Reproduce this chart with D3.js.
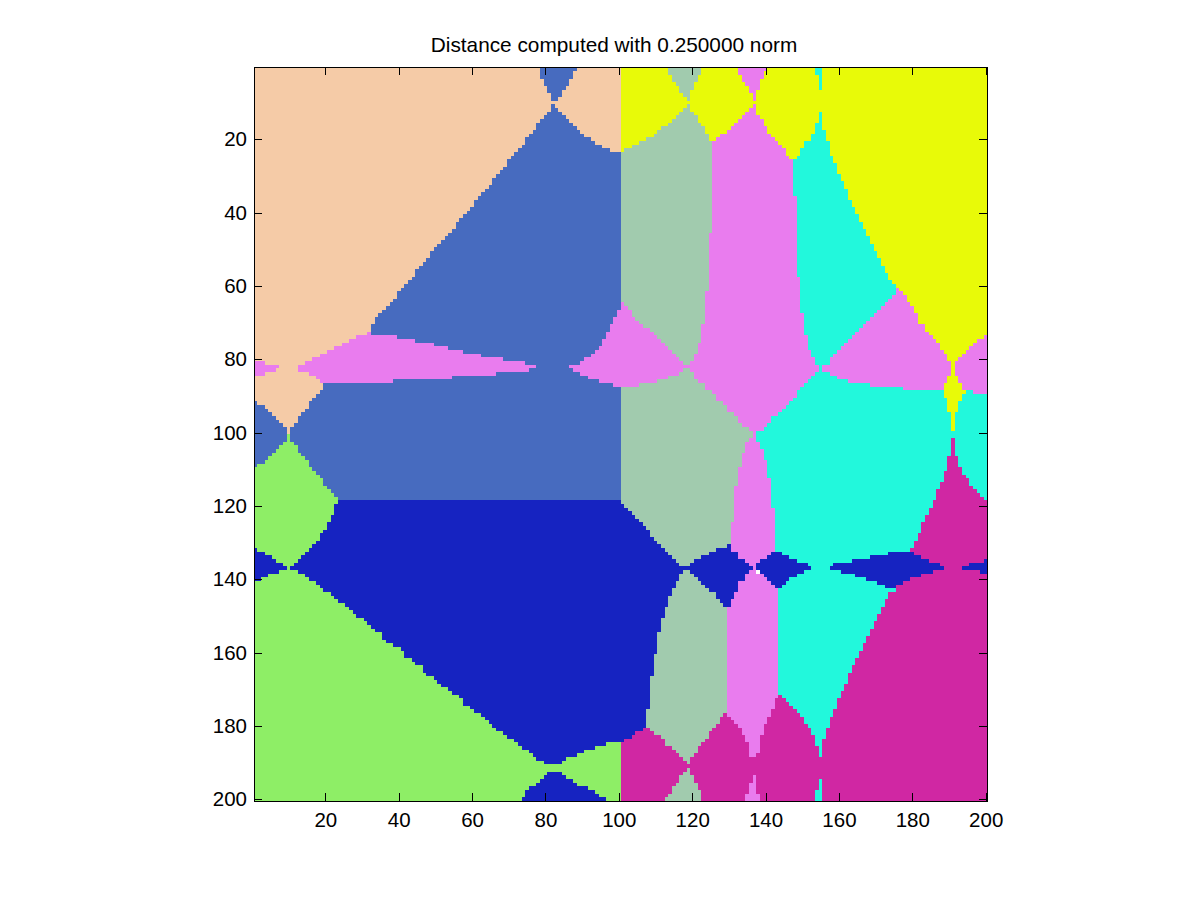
<!DOCTYPE html>
<html><head><meta charset="utf-8">
<script src="https://cdn.jsdelivr.net/npm/d3@7"></script>
<style>html,body{margin:0;padding:0;background:#fff}svg{display:block}text{font-family:"Liberation Sans",Arial,sans-serif;fill:#000}</style>
</head><body><div id="chart"></div>
<script>
const titleText = "Distance computed with 0.250000 norm";
const tickValues = [20,40,60,80,100,120,140,160,180,200];
const gridSize = 201;
const colorNames = ["peach","blue","green","navy","yellow","sage","pink","cyan","magenta"];
const colorValues = ["#f5cba7","#476bbf","#8eee66","#1623c1","#e8fa08","#a1cbae","#e97cee","#22f8dc","#d027a3"];

// Region outlines, in image row/column units [col,row]
const blueBase = [[0,0],[100.5,0],[100.5,118.5],[0,118.5]];
const peachTop = [[0,0],[78.5,0],[78.5,3],[79.6,5],[80.7,7],[81.5,9.5],[82.6,9.5],[84.5,7.5],[86.7,4.7],[87.6,2],[88.5,0],[100.5,0],[100.5,23.4],[98.5,23.4],[96.5,22.6],[94.7,21.5],[91.7,19.7],[89.5,18.5],[87.2,15.6],[84.5,13.4],[82.6,11.5],[82.6,10.6],[81.5,10.6],[81.5,12.5],[79.6,13.8],[76.7,17.5],[73.5,21.8],[69.5,26.5],[64.6,32.5],[59.7,38.4],[54.5,44.7],[48.5,51.5],[43.7,57.5],[38.5,63.8],[32.5,70.6],[32.5,74],[20,80],[0,80.5]];
const peachLobe = [[0,79.9],[19.6,79.9],[19.6,88.5],[18.5,88.5],[18.5,89.5],[17.5,89.5],[17.5,90.6],[16.7,90.6],[15.5,91.5],[15.5,93.5],[14.5,94.5],[12.6,95.5],[12.6,96.5],[11.5,97.6],[10.6,98.5],[10.6,100.3],[9.6,100.3],[9.6,98.5],[8.5,98.4],[7.6,97.6],[6.5,95.8],[5.6,94.9],[4.6,93.8],[3.5,92.5],[1.7,92.5],[0.8,91.5],[0,91.5]];
const greenUpper = [[9.6,100.3],[10.6,100.3],[10.6,102.5],[11.5,102.5],[11.5,103.4],[12.5,103.4],[12.5,105.5],[13.6,105.5],[13.6,106.4],[14.5,106.4],[14.5,107.5],[15.5,107.5],[15.5,109.4],[16.7,109.4],[16.7,110.5],[17.5,110.5],[17.5,111.5],[18.5,111.5],[18.5,112.4],[19.6,112.4],[19.6,114.5],[20.5,114.5],[20.5,115.4],[21.5,115.4],[21.5,116.4],[22.6,116.4],[22.6,117.5],[23.5,117.5],[23.5,119.6],[22.6,119.6],[22.6,122.6],[21.5,122.6],[21.5,124.5],[20.5,124.5],[20.5,126.7],[19.6,126.7],[19.6,127.5],[18.5,127.5],[18.5,129.7],[17.5,129.7],[17.5,130.5],[16.6,130.5],[16.6,131.6],[15.5,131.6],[15.5,132.7],[14.5,132.7],[14.5,133.5],[13.6,133.5],[13.6,134.6],[12.5,134.6],[12.5,135.7],[11.5,135.7],[11.5,136.5],[10.6,136.5],[10.6,137.6],[9.5,137.6],[9.5,136.5],[8.4,136.5],[8.4,135.7],[6.5,135.7],[6.5,134.6],[5.5,134.6],[5.5,133.5],[3.5,133.5],[3.5,132.7],[1.7,132.7],[1.7,131.6],[0,131.6],[0,109.4],[1.7,109.4],[1.7,108.5],[3.5,108.5],[3.5,107.5],[4.6,107.5],[4.6,106.4],[5.5,106.4],[5.5,105.5],[6.5,105.5],[6.5,104.5],[7.6,104.5],[7.6,103.4],[8.5,103.4],[8.5,102.5],[9.6,102.5]];
const navyBase = [[0,118.5],[100.5,118.5],[120.5,137.8],[108,190],[100.5,190],[100.5,201],[73,201.5],[0,201.5],[0,131]];
const greenLower = [[0,140.5],[2.4,140.5],[2.4,139.6],[4.5,139.6],[4.5,138.7],[7.6,138.7],[7.6,137.6],[12.5,137.6],[12.5,138.7],[14.5,138.7],[14.5,139.6],[15.5,139.6],[15.5,140.5],[17.5,140.5],[17.5,141.7],[18.5,141.7],[18.5,142.6],[19.6,142.6],[19.6,143.6],[21.5,143.6],[21.5,144.7],[22.6,144.7],[22.6,145.5],[23.5,145.5],[23.5,146.6],[25.6,146.6],[25.6,147.7],[26.5,147.7],[26.5,148.5],[27.5,148.5],[27.5,149.6],[28.6,149.6],[28.6,150.7],[30.5,150.7],[30.5,151.5],[31.6,151.5],[32.5,153.7],[33.5,153.7],[33.5,154.5],[35.5,154.5],[35.5,155.6],[36.6,156.7],[37.6,157.5],[38.5,158.6],[40.7,158.6],[40.7,159.7],[41.5,160.5],[42.6,161.6],[43.7,162.7],[45.6,163.5],[46.6,164.6],[47.5,165.7],[48.5,166.5],[50.5,167.6],[51.5,168.7],[52.6,169.5],[53.7,170.6],[55.6,171.7],[56.7,172.5],[57.5,173.6],[58.6,174.7],[60.5,175.5],[61.6,176.6],[62.7,177.7],[63.5,178.5],[65.7,179.6],[66.5,180.7],[67.6,181.5],[69.5,182.6],[70.6,183.7],[71.7,184.5],[73.6,185.6],[74.7,186.7],[75.5,187.5],[77.7,188.6],[78.5,189.7],[80.7,190.5],[84.5,190.5],[84.5,189.7],[86.7,188.6],[89.7,187.5],[91.6,186.7],[94.6,185.6],[98.7,184.5],[100.5,184.5],[100.5,201.5],[97.6,201.5],[95.7,199.7],[94.6,198.9],[92.7,197.8],[91.6,196.7],[89.7,196.7],[88.6,195.6],[86.7,194.5],[84.5,193.7],[84.5,192.6],[80.7,192.6],[79.6,193.7],[78.5,194.5],[77.7,195.6],[76.6,196.7],[75.5,196.7],[74.7,197.8],[74.7,199.7],[73.6,199.7],[73.6,201.5],[0,201.5]];
const pinkWedge = [[77.6,81.5],[71.7,80.5],[65.6,79.6],[60.5,78.5],[55.5,77.5],[51.5,76.5],[46.7,75.5],[41.5,74.5],[37.6,73.6],[32.5,73.6],[32.5,72.5],[31.5,72.5],[31.5,73.6],[29.5,73.6],[27.6,74.5],[25.6,75.5],[23.5,76.5],[21.5,77.5],[19.6,78.5],[17.5,79.6],[15.5,80.5],[12.6,81.5],[12.6,83.4],[15.5,83.4],[15.5,84.5],[17.5,84.5],[17.5,85.6],[18.5,85.6],[18.5,86.4],[38.5,86.4],[38.5,85.6],[54.5,85.6],[54.5,84.5],[66.5,84.5],[66.5,83.5],[75.5,83.5],[75.5,82.6],[77.6,82.6]];
const pinkEdge = [[0,80.5],[3.5,80.5],[3.5,81.5],[7.5,81.5],[7.5,82.6],[6.5,82.6],[6.5,83.3],[3.5,83.3],[3.5,84.4],[0,84.4]];
const pinkBlob = [[86.7,81.5],[89.7,81.5],[89.7,80.5],[91.7,79.6],[92.6,78.5],[93.5,77.5],[94.7,76.5],[95.8,75.5],[96.5,73.6],[97.6,71.5],[98.7,69.7],[99.5,66.5],[100.5,66.5],[100.5,64.7],[100.5,87.5],[99.5,87.5],[96.5,86.4],[93.5,85.6],[90.5,84.5],[87.4,83.4],[86.7,82.6]];
const pinkBand = [[100.5,60],[201.5,60],[201.5,90],[155,90],[150,100],[143,138],[130,138],[130,110],[100.5,100]];
const cyanMiddle = [[154.5,81.5],[155.6,81.5],[155.6,83.4],[157.5,83.5],[157.5,84.5],[159.7,84.5],[159.7,85.6],[162.7,85.6],[162.7,86.4],[168.7,86.4],[168.7,87.5],[177.7,87.5],[177.7,88.6],[194.4,88.6],[196.6,88.6],[196.6,89.4],[201.5,89.4],[201.5,137],[142.5,137],[142.5,120.4],[141.5,120.4],[141.5,112.3],[140.5,112.3],[140.5,107.5],[139.6,107.5],[139.6,104.5],[138.5,104.5],[138.5,102.5],[137.6,102.5],[137.6,99.5],[138.5,99.5],[139.6,98.5],[140.5,97.6],[141.5,96.5],[142.5,95.5],[143.6,94.5],[144.5,93.6],[145.5,92.6],[146.6,91.5],[147.5,90.6],[148.6,89.5],[149.6,87.6],[150.5,86.5],[151.5,85.6],[152.5,84.5],[153.6,83.5],[154.5,83.4]];
const yellowMain = [[100.5,0],[201.5,0],[201.5,73.6],[199.5,73.6],[199.5,74.5],[197.7,74.5],[196.6,75.6],[195.7,76.5],[194.6,77.5],[193.6,78.5],[192.6,79.5],[192.6,80.5],[191.6,80.5],[191.6,84.5],[192.6,84.5],[192.6,86.4],[193.5,86.4],[193.5,88.6],[194.4,88.6],[194.4,89.5],[193.5,89.5],[193.5,91.5],[192.6,91.5],[192.6,94.5],[191.6,94.5],[191.6,99.5],[190.5,99.5],[190.5,94.5],[189.8,94.5],[189.8,90.6],[188.6,90.6],[188.6,86.4],[189.8,86.4],[189.8,84.5],[190.5,84.5],[190.5,80.5],[189.8,80.5],[189.8,78.5],[188.7,78.5],[187.5,77.5],[187.5,75.5],[186.6,75.5],[186.6,74.5],[185.7,74.5],[185.7,73.4],[184.5,73.4],[183.7,71.5],[182.6,70.6],[181.5,69.5],[180.7,66.5],[179.6,65.5],[178.6,63.8],[177.7,62.5],[176.6,61.7],[175.5,59.5],[100.5,59.5]];
const pinkUpper = [[125.6,20.5],[126.6,19.7],[127.5,18.5],[129.5,18.5],[130.5,16.5],[131.6,15.6],[132.5,14.5],[133.5,13.6],[134.6,12.5],[135.5,11.5],[136.6,10.6],[137.6,10.6],[137.6,12.5],[138.5,14.5],[139.6,15.5],[140.5,18],[141.6,18.5],[142.5,19.7],[143.6,21.5],[144.5,22.5],[145.7,23.5],[146.6,25.6],[149,26],[152,60.5],[122,60.5],[122,25]];
const cyanUpper = [[154.6,12.5],[155.6,12.5],[155.6,17.5],[156.6,17.5],[156.6,20.5],[157.5,20.5],[157.5,23.4],[158.6,25.6],[159.7,28.6],[160.5,30.4],[161.6,32.5],[162.7,35.4],[163.6,37.5],[164.6,39.5],[165.7,41.5],[166.6,43.5],[167.7,45.5],[168.7,47.5],[169.5,49.5],[170.6,51.5],[171.5,53.4],[172.5,55.6],[173.7,57.5],[174.8,59.5],[175.5,59.5],[175.5,62.2],[174.8,62.7],[173.7,63.8],[171.5,65.5],[169.5,67.6],[167.7,69.7],[165.7,71.8],[163.6,73.5],[161.6,75.6],[159.8,77.5],[158.6,78.5],[157.5,80.5],[156.6,81.5],[155.6,81.5],[155.6,83.4],[154.5,83.4],[154.5,81.5],[153.6,81.5],[153.6,79.5],[152.5,79.5],[152.5,77.4],[151.5,77.4],[151.5,73.5],[150.5,73.5],[150.5,67.5],[149.6,67.5],[149.6,57.5],[148.6,57.5],[148.6,35.4],[147.5,35.4],[147.5,25.6],[148.6,24.5],[149.6,23.5],[150.5,21.5],[151.5,20.5],[152.5,20.5],[152.5,18.2],[153.7,18.2],[153.7,15.6],[154.6,15.6]];
const sageUpper = [[100.5,23.4],[102.5,22.6],[104.5,21.5],[106.6,20.5],[108.5,19.7],[109.5,18.5],[111.5,17.5],[112.5,16.5],[113.7,15.6],[114.5,14.5],[115.5,13.6],[116.6,12.5],[117.5,11.5],[118.5,10.6],[119.5,10.6],[119.5,11.5],[120.5,12.5],[121.5,13.6],[121.6,15.5],[122.7,15.6],[123.5,17.3],[124.5,19.7],[125.6,20.5],[125.6,45.5],[124.5,45.5],[124.5,61.5],[123.5,61.5],[123.5,70.6],[122.6,70.6],[122.6,75.5],[121.5,75.5],[121.5,78.5],[120.5,78.5],[120.5,80.5],[119.5,80.5],[119.5,81.5],[117.5,81.5],[117.5,80.5],[115.5,79.5],[113.7,77.5],[111.5,75.2],[108.5,72],[107.5,71.5],[105.5,69.5],[103.6,67.6],[102.5,65.6],[101.6,64.7],[100.5,64.7]];
const sageTop = [[112.5,0],[113.6,1.5],[114.5,4.5],[116.6,5.5],[116.6,7.5],[118.5,8.4],[118.5,9.5],[119.5,9.5],[119.5,8.4],[120.5,5.5],[121.6,3.5],[122.6,0]];
const pinkTop = [[131.6,0],[132.5,1.5],[133.5,3.5],[134.8,5.5],[135.5,6.6],[136.6,8.4],[136.6,9.5],[137.6,9.5],[137.6,8.4],[138.5,4.8],[139.6,2.5],[140.5,0]];
const cyanTop = [[153.7,0],[153.7,3],[154.6,3],[154.6,6.5],[155.6,6.5],[155.6,0]];
const sageMiddle = [[100.5,87.5],[105.5,87.5],[105.5,86.4],[110.7,86.4],[110.7,85.6],[113.7,85.6],[113.7,84.5],[116.6,84.5],[116.6,83.5],[117.5,82.6],[119.5,82.6],[119.5,83.5],[120.5,83.5],[120.5,84.5],[121.5,85.6],[122.5,86.4],[123.5,87.5],[124.5,88.5],[125.6,89.5],[126.5,90.6],[127.5,91.5],[128.6,92.5],[129.5,93.5],[130.5,94.5],[131.6,95.5],[132.5,96.5],[133.5,97.6],[134.6,98.5],[135.5,99.5],[136.5,99.5],[136.5,101.4],[135.5,101.4],[135.5,102.5],[134.6,102.5],[134.6,105.5],[133.5,105.5],[133.5,109.3],[132.5,109.3],[132.5,114.5],[131.6,114.5],[131.6,124.5],[130.5,124.5],[130.5,130.5],[129.5,130.5],[129.5,131.6],[126.5,131.6],[126.5,132.7],[124.5,132.7],[124.5,133.5],[122.6,133.5],[122.6,134.6],[120.5,134.6],[119.5,135.6],[119.5,136.5],[117.5,136.5],[116.6,135.6],[115.5,134.6],[114.5,133.7],[113.6,132.7],[112.5,131.7],[111.5,130.6],[110.5,129.7],[109.5,128.6],[108.5,127.5],[107.5,125.5],[105.5,124.5],[103.6,121.9],[102.5,120.8],[101.6,119.6],[100.5,118.5]];
const magentaBase = [[100.5,184.5],[101.6,183.7],[103.5,183.7],[103.5,182.6],[104.6,182.6],[104.6,181.6],[106.6,181.6],[106.6,180.8],[107.5,180.8],[120,170],[145,170],[145,136.8],[179.6,136.8],[179.6,132.7],[179.6,131.7],[180.7,131.7],[180.7,129.7],[181.5,129.7],[181.5,127.5],[182.6,127.5],[182.6,124.5],[183.6,124.5],[183.6,122.6],[184.5,122.6],[184.5,120.5],[185.7,120.5],[185.7,118.4],[186.6,118.4],[186.6,115.4],[187.5,115.4],[187.5,113.5],[188.6,113.5],[188.6,110.4],[189.8,110.4],[189.8,106.4],[190.5,106.4],[190.5,101.4],[191.6,101.4],[191.6,106.4],[192.6,106.4],[192.6,109.3],[193.5,109.3],[193.5,111.4],[194.4,111.4],[194.4,112.3],[195.5,112.3],[195.5,114.5],[196.4,114.5],[196.4,115.4],[197.5,115.4],[197.5,116.4],[198.5,116.4],[198.5,117.3],[199.3,117.3],[199.3,118.4],[201.5,118.4],[201.5,201.5],[100.5,201.5]];
const cyanLower = [[143.6,136.7],[176,136.7],[175.5,142.5],[174.6,143.5],[173.7,143.5],[173.7,145.5],[172.5,145.5],[172.5,147.6],[171.5,147.6],[171.5,149.6],[170.6,149.6],[170.6,151.5],[169.5,151.5],[169.5,153.7],[168.7,153.7],[168.7,155.6],[167.6,155.6],[167.6,157.6],[166.6,157.6],[166.6,159.7],[165.7,159.7],[165.7,161.5],[164.6,161.5],[164.6,163.5],[163.6,163.5],[163.6,165.8],[162.7,165.8],[162.7,168.7],[161.6,168.7],[161.6,170.6],[160.5,170.6],[160.5,172.6],[159.7,172.6],[159.7,175.5],[158.6,175.5],[158.6,177.8],[157.5,177.8],[157.5,180.7],[156.7,180.7],[156.7,183.7],[155.6,183.7],[155.6,188.5],[154.6,188.5],[154.6,185.6],[153.6,185.6],[153.6,182.6],[152.6,182.6],[152.6,180.7],[151.5,180.7],[151.5,179.7],[150.5,179.7],[150.5,177.8],[149.6,177.8],[149.6,176.7],[148.6,176.7],[148.6,175.5],[147.5,175.5],[147.5,174.6],[146.6,174.6],[146.6,173.5],[145.5,173.5],[145.5,172.6],[144.5,172.6],[144.5,171.7],[143.6,171.7]];
const pinkLower = [[129.5,147.6],[130.5,147.6],[130.5,145.5],[131.6,145.5],[131.6,143.5],[132.5,143.5],[132.5,141.5],[133.5,140.5],[134.6,140.5],[134.6,138.7],[135.5,137.6],[137.6,137.6],[138.5,138.7],[139.6,138.7],[139.6,139.6],[140.5,139.6],[140.5,140.5],[141.5,140.5],[141.5,141.5],[142.5,141.5],[142.5,142.5],[143.6,142.5],[143.6,173],[142.5,173],[142.5,175.5],[141.5,175.5],[141.5,177.8],[140.5,177.8],[140.5,179.7],[139.6,179.7],[139.6,182.6],[138.5,182.6],[138.5,187.6],[137.6,187.6],[137.6,188.5],[135.5,188.5],[135.5,184.7],[134.6,184.7],[134.6,182.6],[133.5,182.6],[133.5,180.7],[132.5,180.7],[132.5,179.7],[131.6,179.7],[131.6,178.6],[130.5,178.6],[130.5,177.8],[129.5,177.8]];
const sageLower = [[117.5,137.6],[119.5,137.6],[120.5,138.5],[121.5,139.6],[122.5,140.5],[123.5,141.7],[124.5,142.6],[125.6,143.5],[126.5,144.5],[126.5,145.5],[127.5,145.5],[127.5,146.5],[128.6,146.5],[128.6,147.6],[129.5,147.6],[129.5,176.7],[128.6,176.7],[128.6,177.8],[127.5,177.8],[127.5,179.7],[126.5,179.7],[125.6,180.6],[124.5,181.5],[124.5,182.6],[123.5,183.7],[122.6,184.7],[121.5,185.6],[121.5,187.6],[120.5,187.6],[119.5,188.5],[119.5,190.5],[118.5,190.5],[118.5,189.6],[117.5,189.6],[117.5,188.5],[116.6,188.5],[116.6,187.6],[115.5,187.6],[115.5,186.7],[114.5,186.7],[114.5,185.6],[113.6,185.6],[112.5,184.7],[112.5,183.7],[111.5,183.7],[111.5,182.6],[109.5,182.6],[109.5,181.5],[108.5,181.5],[108.5,180.8],[107.5,180.8],[107.5,175.5],[108.5,175.5],[108.5,166.5],[109.5,166.5],[109.5,160.5],[110.5,160.5],[110.5,154.6],[111.5,154.6],[111.5,150.8],[112.5,150.8],[112.5,147.6],[113.6,147.6],[113.6,144.7],[114.5,144.7],[114.5,142.5],[115.5,142.5],[115.5,140.5],[116.6,140.5],[116.6,138.7]];
const navyDiamondA = [[119.5,137.6],[119.5,135.6],[120.5,134.6],[122.6,134.6],[122.6,133.5],[124.5,133.5],[124.5,132.7],[126.5,132.7],[126.5,131.6],[129.5,131.6],[129.5,130.5],[130.5,130.5],[130.5,131.6],[131.6,132.7],[132.5,132.7],[132.5,133.7],[133.5,134.6],[134.6,134.6],[134.6,135.6],[135.5,135.6],[135.5,136.5],[136.5,136.5],[136.5,137.6],[135.5,137.6],[134.6,138.7],[134.6,140.5],[133.5,140.5],[132.5,141.5],[132.5,143.5],[131.6,143.5],[131.6,145.5],[130.5,145.5],[130.5,147.6],[128.6,147.6],[128.6,146.5],[127.5,146.5],[127.5,145.5],[126.5,145.5],[126.5,144.5],[125.6,143.5],[124.5,142.6],[123.5,141.7],[122.5,140.5],[121.5,139.6],[120.5,138.5]];
const navyDiamondB = [[137.6,135.6],[138.5,134.6],[140.5,134.6],[140.5,133.7],[141.5,133.7],[141.5,132.7],[144.5,132.7],[144.5,133.5],[146.6,133.5],[146.6,134.6],[148.6,134.6],[148.6,135.6],[151.5,135.6],[151.5,136.5],[152.6,136.5],[152.6,137.6],[150.5,137.6],[150.5,138.7],[148.6,138.7],[148.6,139.6],[146.6,139.6],[146.6,140.5],[145.5,140.5],[145.5,141.5],[144.5,141.5],[144.5,142.5],[142.5,142.5],[142.5,141.5],[141.5,141.5],[141.5,140.5],[140.5,140.5],[140.5,139.6],[139.6,139.6],[139.6,138.7],[138.5,138.7],[138.5,137.6],[137.6,137.6]];
const navyDiamondC = [[157.5,136.5],[158.6,136.5],[158.6,135.6],[163.6,135.6],[163.6,134.6],[168.7,134.6],[168.7,133.5],[173.7,133.5],[173.7,132.7],[180.7,132.7],[180.7,133.5],[182.6,133.5],[182.6,134.6],[184.5,134.6],[184.5,135.6],[187.5,135.6],[187.5,136.5],[188.6,136.5],[188.6,137.6],[185.7,137.6],[185.7,138.7],[182.6,138.7],[182.6,139.6],[179.6,139.6],[179.6,140.5],[177.7,140.5],[177.7,141.6],[175.5,141.6],[175.5,142.5],[172.5,142.5],[172.5,141.6],[170.6,141.6],[170.6,140.5],[167.6,140.5],[167.6,139.6],[164.6,139.6],[164.6,138.7],[160.5,138.7],[160.5,137.6],[157.5,137.6]];
const navyDiamondD = [[193.5,136.5],[195.5,136.5],[195.5,135.6],[199.3,135.6],[199.3,134.6],[201.5,134.6],[201.5,138.7],[198.5,138.7],[198.5,137.6],[193.5,137.6]];
const pinkBottom = [[136.5,193.5],[137.6,193.5],[137.6,198.2],[138.5,198.2],[138.5,201.5],[134.6,201.5],[134.6,198.2],[135.5,198.2],[135.5,195.7],[136.5,195.7]];
const sageBottom = [[119.5,191.5],[118.5,191.5],[118.5,192.7],[117.5,192.7],[117.5,193.5],[116.6,193.5],[116.6,195.6],[115.5,195.6],[114.5,196.5],[114.5,198.5],[113.6,198.5],[113.6,199.5],[112.5,199.5],[112.5,201.5],[122.6,201.5],[122.6,197.8],[121.5,197.8],[121.5,196],[120.5,196],[120.5,193.5],[119.5,192.7]];
const cyanBottom = [[153.7,201.5],[153.7,197.8],[154.6,197.8],[154.6,194.8],[155.6,194.8],[155.6,201.5]];

const layers = [
 ["blue",blueBase],["peach",peachTop],["peach",peachLobe],["navy",navyBase],["green",greenUpper],["green",greenLower],
 ["pink",pinkWedge],["pink",pinkEdge],["pink",pinkBlob],["pink",pinkBand],["cyan",cyanMiddle],["yellow",yellowMain],
 ["pink",pinkUpper],["cyan",cyanUpper],["sage",sageUpper],["sage",sageTop],["pink",pinkTop],["cyan",cyanTop],
 ["sage",sageMiddle],["magenta",magentaBase],["cyan",cyanLower],["pink",pinkLower],["sage",sageLower],
 ["navy",navyDiamondA],["navy",navyDiamondB],["navy",navyDiamondC],["navy",navyDiamondD],
 ["pink",pinkBottom],["sage",sageBottom],["cyan",cyanBottom]
];

const width = 1200, height = 900;
const frame = {left:254, right:987, top:67, bottom:801};
const x = d3.scaleLinear().domain([20,200]).range([325.3,985.7]);
const y = d3.scaleLinear().domain([20,200]).range([139.3,799.3]);
const color = d3.scaleOrdinal().domain(colorNames).range(colorValues);

const svg = d3.select("#chart").append("svg").attr("width",width).attr("height",height);
svg.append("defs").append("clipPath").attr("id","plot").append("rect")
  .attr("x",frame.left).attr("y",frame.top).attr("width",frame.right-frame.left).attr("height",frame.bottom-frame.top);

// Classify each image cell by the topmost outline that contains it, then merge runs along rows.
const runs = [];
for (let row = 1; row <= gridSize; row++) {
  let current = null;
  for (let col = 1; col <= gridSize; col++) {
    let name = null;
    for (let i = layers.length-1; i >= 0; i--) {
      if (d3.polygonContains(layers[i][1],[col,row])) { name = layers[i][0]; break; }
    }
    if (current && current.name === name) current.end = col;
    else { current = {row, start:col, end:col, name}; runs.push(current); }
  }
}
svg.append("g").attr("clip-path","url(#plot)").attr("shape-rendering","crispEdges")
  .selectAll("rect").data(runs.filter(d=>d.name)).join("rect")
  .attr("x",d=>Math.round(x(d.start-.5)))
  .attr("y",d=>Math.round(y(d.row-.5)))
  .attr("width",d=>Math.round(x(d.end+.5))-Math.round(x(d.start-.5)))
  .attr("height",d=>Math.round(y(d.row+.5))-Math.round(y(d.row-.5)))
  .attr("fill",d=>color(d.name));

function styleAxis(g, showText){
  g.select(".domain").remove();
  g.selectAll(".tick line").attr("stroke","#000").attr("shape-rendering","crispEdges");
  g.selectAll(".tick text").attr("font-size",20.5).attr("fill","#000").style("display",showText?null:"none");
}
const tick = 8;
svg.append("g").attr("transform",`translate(0,${frame.bottom})`)
  .call(d3.axisBottom(x).tickValues(tickValues).tickSizeInner(-tick).tickPadding(11)).call(g=>styleAxis(g,true));
svg.append("g").attr("transform",`translate(0,${frame.top})`)
  .call(d3.axisTop(x).tickValues(tickValues).tickSizeInner(-tick)).call(g=>styleAxis(g,false));
svg.append("g").attr("transform",`translate(${frame.left},0)`)
  .call(d3.axisLeft(y).tickValues(tickValues).tickSizeInner(-tick).tickPadding(7)).call(g=>styleAxis(g,true));
svg.append("g").attr("transform",`translate(${frame.right},0)`)
  .call(d3.axisRight(y).tickValues(tickValues).tickSizeInner(-tick)).call(g=>styleAxis(g,false));

svg.append("rect").attr("x",frame.left+.5).attr("y",frame.top+.5)
  .attr("width",frame.right-frame.left).attr("height",frame.bottom-frame.top)
  .attr("fill","none").attr("stroke","#000").attr("stroke-width",1).attr("shape-rendering","crispEdges");

svg.append("text").attr("x",614).attr("y",52).attr("text-anchor","middle").attr("font-size",20.8).text(titleText);
</script></body></html>
